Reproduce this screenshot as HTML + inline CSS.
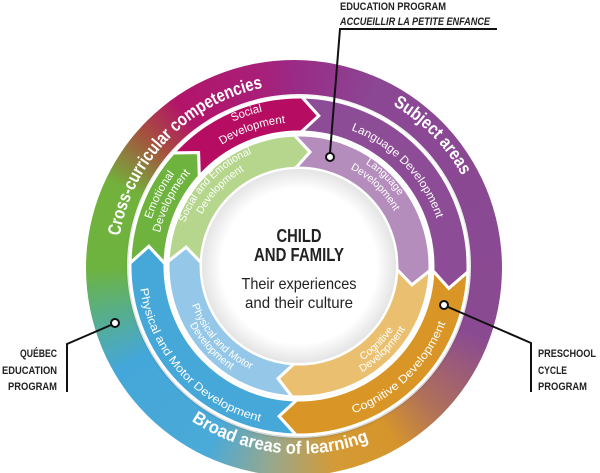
<!DOCTYPE html>
<html><head><meta charset="utf-8"><style>
html,body{margin:0;padding:0;background:#fff;}
#w{position:relative;width:600px;height:473px;overflow:hidden;background:#fff;}
#ring{position:absolute;left:86px;top:60px;width:416px;height:416px;border-radius:50%;
background:conic-gradient(from 0deg,#9a2a86 0deg,#8b4794 25deg,#8a4a92 110deg,#b0705a 135deg,#d6952c 150deg,#d49a35 168deg,#9aa88a 186deg,#4aaad8 205deg,#44a7d9 240deg,#5aaf80 258deg,#6db33f 270deg,#72b23c 295deg,#a6503e 312deg,#b3146a 325deg,#a81f78 350deg,#9a2a86 360deg);}
svg{position:absolute;left:0;top:0;}
.o{font-family:"Liberation Sans",sans-serif;font-size:18px;font-weight:bold;fill:#fff;}
.m{font-family:"Liberation Sans",sans-serif;font-size:11.5px;fill:#fff;}
.i{font-family:"Liberation Sans",sans-serif;font-size:10.5px;fill:#fff;}
.lb{font-family:"Liberation Sans",sans-serif;font-size:11px;font-weight:bold;fill:#222;}
</style></head><body><div id="w">
<div id="ring"></div>
<svg width="600" height="473" viewBox="0 0 600 473">
<defs>
<filter id="sh" x="-20%" y="-20%" width="140%" height="140%"><feDropShadow dx="0" dy="1" stdDeviation="1.5" flood-opacity="0.3"/></filter>
<radialGradient id="cg"><stop offset="0.8" stop-color="#fff"/><stop offset="1" stop-color="#e4e4e4"/></radialGradient>
<path id="p1" d="M170.3,394.7 A182,182 0 0 1 423.1,132.9"/>
<path id="p2" d="M171.9,131.5 A185,185 0 0 1 430.7,395.9"/>
<path id="p3" d="M106.5,242.4 A194,194 0 0 0 491.9,286.3"/>
<path id="p4" d="M189.6,377.2 A156,156 0 0 0 412.2,158.6"/>
<path id="p5" d="M191.2,150.5 A158,158 0 0 0 402.7,385.3"/>
<path id="p6" d="M199.4,159.2 A146,146 0 0 1 402.2,369.2"/>
</defs>
<circle cx="299" cy="266" r="172" fill="#fff"/>
<g id="segs" filter="url(#sh)"></g>
<circle cx="299" cy="266" r="97" fill="url(#cg)"/>

<text class="o"><textPath href="#p1" startOffset="50%" text-anchor="middle" textLength="219" lengthAdjust="spacingAndGlyphs">Cross-curricular competencies</textPath></text>
<text class="o"><textPath href="#p2" startOffset="50%" text-anchor="middle" textLength="100" lengthAdjust="spacingAndGlyphs">Subject areas</textPath></text>
<text class="o"><textPath href="#p3" startOffset="50%" text-anchor="middle" textLength="186" lengthAdjust="spacingAndGlyphs">Broad areas of learning</textPath></text>
<text class="m"><textPath href="#p4" startOffset="50%" text-anchor="middle" textLength="133" lengthAdjust="spacingAndGlyphs">Cognitive Development</textPath></text>
<text class="m"><textPath href="#p5" startOffset="50%" text-anchor="middle" textLength="190" lengthAdjust="spacingAndGlyphs">Physical and Motor Development</textPath></text>
<text class="m"><textPath href="#p6" startOffset="50%" text-anchor="middle" textLength="127" lengthAdjust="spacingAndGlyphs">Language Development</textPath></text>
<text class="m"><textPath href="#q7a" startOffset="50%" text-anchor="middle">Social</textPath></text>
<text class="m"><textPath href="#q7b" startOffset="50%" text-anchor="middle">Development</textPath></text>
<text class="m"><textPath href="#q8a" startOffset="50%" text-anchor="middle">Emotional</textPath></text>
<text class="m"><textPath href="#q8b" startOffset="50%" text-anchor="middle">Development</textPath></text>
<text class="i"><textPath href="#q9a" startOffset="50%" text-anchor="middle">Social and Emotional</textPath></text>
<text class="i"><textPath href="#q9b" startOffset="50%" text-anchor="middle">Development</textPath></text>
<text class="i"><textPath href="#q10a" startOffset="50%" text-anchor="middle">Language</textPath></text>
<text class="i"><textPath href="#q10b" startOffset="50%" text-anchor="middle">Development</textPath></text>
<text class="i"><textPath href="#q11a" startOffset="50%" text-anchor="middle">Physical and Motor</textPath></text>
<text class="i"><textPath href="#q11b" startOffset="50%" text-anchor="middle">Development</textPath></text>
<text class="i"><textPath href="#q12a" startOffset="50%" text-anchor="middle">Cognitive</textPath></text>
<text class="i"><textPath href="#q12b" startOffset="50%" text-anchor="middle">Development</textPath></text>

<g font-family="'Liberation Sans',sans-serif" fill="#222" text-anchor="middle">
<text x="299" y="242" font-size="18" font-weight="bold" textLength="45" lengthAdjust="spacingAndGlyphs">CHILD</text>
<text x="299" y="261" font-size="18" font-weight="bold" textLength="90" lengthAdjust="spacingAndGlyphs">AND FAMILY</text>
<text x="299" y="289" font-size="16" textLength="115" lengthAdjust="spacingAndGlyphs">Their experiences</text>
<text x="299" y="308" font-size="16" textLength="108" lengthAdjust="spacingAndGlyphs">and their culture</text>
</g>

<g fill="none" stroke="#111" stroke-width="2">
<polyline points="330,153 340,29 497,29"/>
<polyline points="111,325 67,344 67,392"/>
<polyline points="448,307 531,343 531,392"/>
</g>
<g fill="#fff" stroke="#111" stroke-width="2">
<circle cx="330" cy="157" r="4"/>
<circle cx="115" cy="323" r="4"/>
<circle cx="444" cy="305" r="4"/>
</g>
<text class="lb" x="340" y="10" textLength="106" lengthAdjust="spacingAndGlyphs">EDUCATION PROGRAM</text>
<text class="lb" x="340" y="25" font-weight="normal" font-style="italic" textLength="150" lengthAdjust="spacingAndGlyphs">ACCUEILLIR LA PETITE ENFANCE</text>
<text class="lb" x="20" y="357" textLength="37" lengthAdjust="spacingAndGlyphs">QUÉBEC</text>
<text class="lb" x="2" y="374" textLength="55" lengthAdjust="spacingAndGlyphs">EDUCATION</text>
<text class="lb" x="8" y="390" textLength="49" lengthAdjust="spacingAndGlyphs">PROGRAM</text>
<text class="lb" x="538" y="357" textLength="58" lengthAdjust="spacingAndGlyphs">PRESCHOOL</text>
<text class="lb" x="538" y="374" textLength="29" lengthAdjust="spacingAndGlyphs">CYCLE</text>
<text class="lb" x="538" y="390" textLength="49" lengthAdjust="spacingAndGlyphs">PROGRAM</text>
</svg>
</div>
<script>
(function(){
var cx=299,cy=266,NS="http://www.w3.org/2000/svg";
function P(r,t){t=t*Math.PI/180;return (cx+r*Math.sin(t)).toFixed(1)+","+(cy-r*Math.cos(t)).toFixed(1);}
function seg(r1,r2,a1,a2,d,fill){
 var rm=(r1+r2)/2,lg=(a2-a1)>180?1:0;
 var s="M"+P(r2,a1)+" A"+r2+","+r2+" 0 "+lg+" 1 "+P(r2,a2)+" L"+P(rm,a2+d)+" L"+P(r1,a2)+
  " A"+r1+","+r1+" 0 "+lg+" 0 "+P(r1,a1)+" L"+P(rm,a1+d)+" Z";
 var p=document.createElementNS(NS,"path");
 p.setAttribute("d",s);p.setAttribute("fill",fill);p.setAttribute("stroke","#fff");
 p.setAttribute("stroke-width","3");p.setAttribute("stroke-linejoin","miter");
 document.getElementById("segs").appendChild(p);
}
var defs=document.querySelector("defs");
function arc(id,r,c,cw){
 var a1,a2,s;
 if(cw){a1=c-89;a2=c+89;s=1;}else{a1=c+89;a2=c-89;s=0;}
 var p=document.createElementNS(NS,"path");
 p.setAttribute("id",id);
 p.setAttribute("d","M"+P(r,a1)+" A"+r+","+r+" 0 0 "+s+" "+P(r,a2));
 defs.appendChild(p);
}
arc("q7a",156,341,1);arc("q7b",143,341,1);
arc("q8a",156,297,1);arc("q8b",143,297,1);
arc("q9a",120,314,1);arc("q9b",108,314,1);
arc("q10a",120,44,1);arc("q10b",108,44,1);
arc("q11a",113,227.5,0);arc("q11b",125,227.5,0);
arc("q12a",113,135,0);arc("q12b",125,135,0);
var dm=6.5,di=7.5;
seg(134,169,181,271,dm,"#45a8d9");
seg(134,169,271,312,dm,"#6db33e");
seg(134,169,312,361,dm,"#b60f62");
seg(134,169,1,92,dm,"#8c4d96");
seg(134,169,92,181,dm,"#d99626");
seg(98,131,183,272,di,"#95c8e8");
seg(98,131,272,358,di,"#b5d68c");
seg(98,131,358,452,di,"#b58dbd");
seg(98,131,92,183,di,"#eac070");
})();
</script>
</body></html>
